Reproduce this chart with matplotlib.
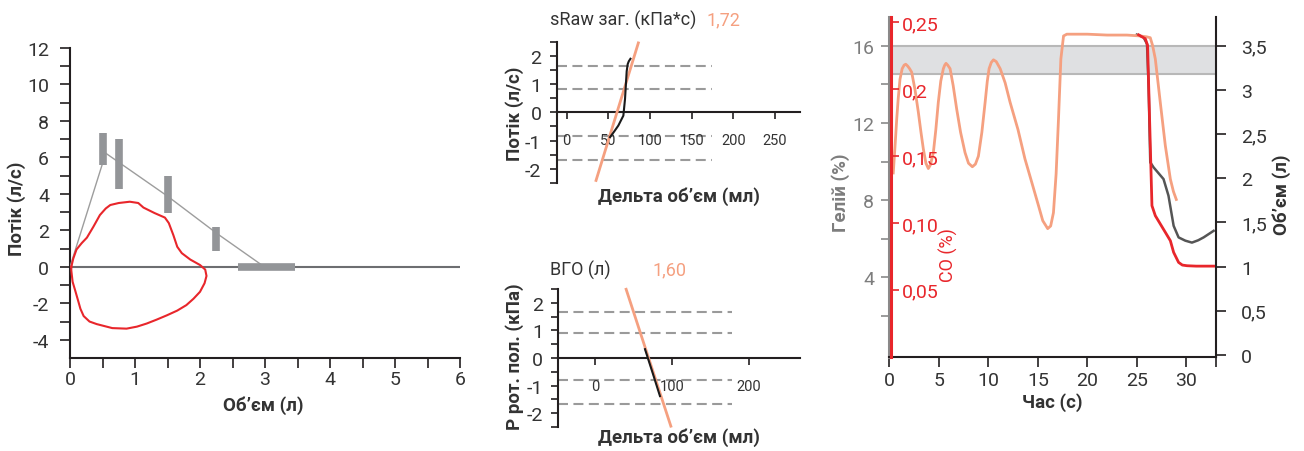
import matplotlib
matplotlib.use('Agg')
import matplotlib.pyplot as plt
from matplotlib.ticker import FixedLocator, FixedFormatter

plt.rcParams['font.family'] = ['Roboto', 'DejaVu Sans']
plt.rcParams['axes.unicode_minus'] = False

# ---------------- data ----------------
# Panel 1: flow-volume
loop_vol = [0.02, 0.05, 0.10, 0.18, 0.26, 0.36, 0.46, 0.55, 0.62, 0.75, 0.92, 1.05, 1.13, 1.30, 1.46, 1.52,
            1.59, 1.65, 1.72, 1.85, 2.00, 2.08, 2.10, 2.07, 2.00, 1.90, 1.79, 1.65, 1.49, 1.33, 1.18, 1.03,
            0.87, 0.65, 0.41, 0.30, 0.21, 0.16, 0.13, 0.08, 0.04, 0.02]
loop_flow = [0.00, 0.45, 0.95, 1.30, 1.60, 2.20, 2.84, 3.20, 3.39, 3.50, 3.57, 3.50, 3.25, 2.95, 2.70, 2.40,
             1.74, 1.10, 0.75, 0.40, 0.10, -0.15, -0.50, -0.90, -1.37, -1.75, -2.10, -2.40, -2.66, -2.90, -3.11, -3.28,
             -3.39, -3.36, -3.14, -3.00, -2.70, -2.30, -1.92, -1.30, -0.82, -0.20]
pred_vol = [0.0, 0.55, 1.51, 2.26, 2.95, 3.45]
pred_flow = [0.0, 6.23, 3.85, 1.83, 0.10, 0.0]
bar_x = [0.51, 0.75, 1.51, 2.25]
bar_lo = [5.59, 4.27, 2.93, 0.86]
bar_hi = [7.33, 7.00, 5.00, 2.20]
hbar_x = [2.59, 3.46]
hbar_y = 0.0
vol_ticks = [0, 1, 2, 3, 4, 5, 6]
flow_ticks = [-4, -2, 0, 2, 4, 6, 8, 10, 12]

# Panel 2: sRaw
sraw_fit_x = [35.2, 86.0]
sraw_fit_y = [-2.41, 2.45]
sraw_loop_x = [52.0, 57.0, 62.0, 68.0, 70.0, 71.2, 72.0, 73.2, 74.5, 76.5]
sraw_loop_y = [-0.88, -0.68, -0.47, -0.12, 0.47, 1.06, 1.45, 1.70, 1.80, 1.89]
sraw_dash_y = [1.65, 0.81, -0.85, -1.67]
sraw_dash_x = [-12, 174]
sraw_xticks = [0, 50, 100, 150, 200, 250]
sraw_value = "1,72"

# Panel 3: ВГО
vgo_fit_x = [40.4, 98.7]
vgo_fit_y = [2.49, -2.47]
vgo_loop_x = [65.0, 74.5, 84.5]
vgo_loop_y = [0.32, -0.50, -1.38]
vgo_dash_y = [1.66, 0.90, -0.78, -1.65]
vgo_dash_x = [-48, 178]
vgo_xticks = [0, 100, 200]
vgo_value = "1,60"

# Panel 4: time series
t_vol = [0.40, 0.60, 0.75, 0.90, 1.08, 1.30, 1.50, 1.66, 1.85, 2.05, 2.26, 2.60, 2.93, 3.20, 3.44, 3.70,
         3.94, 4.15, 4.45, 4.70, 4.95, 5.20, 5.46, 5.60, 5.73, 5.90, 6.14, 6.45, 6.81, 7.20, 7.65, 8.00,
         8.39, 8.70, 9.00, 9.35, 9.68, 9.90, 10.08, 10.30, 10.52, 10.80, 11.20, 11.70, 12.20, 13.00, 13.70,
         14.40, 15.07, 15.50, 16.00, 16.30, 16.58, 16.85, 17.09, 17.33, 17.60, 17.93, 20.0, 22.0, 24.0,
         25.35, 26.00, 26.36, 26.60, 26.87, 27.37, 27.88, 28.39, 28.70, 28.99]
volume = [2.06, 2.40, 2.67, 2.90, 3.12, 3.24, 3.28, 3.29, 3.27, 3.24, 3.20, 3.00, 2.75, 2.52, 2.33, 2.17,
          2.11, 2.15, 2.29, 2.55, 2.86, 3.10, 3.24, 3.28, 3.30, 3.28, 3.24, 3.05, 2.78, 2.52, 2.29, 2.17,
          2.13, 2.16, 2.25, 2.52, 2.86, 3.10, 3.24, 3.31, 3.34, 3.32, 3.24, 3.08, 2.86, 2.55, 2.22,
          1.95, 1.69, 1.52, 1.43, 1.46, 1.61, 2.05, 2.67, 3.35, 3.61, 3.63, 3.63, 3.62, 3.62,
          3.61, 3.60, 3.59, 3.50, 3.35, 2.86, 2.37, 1.99, 1.85, 1.76]
t_co = [25.18, 25.86, 26.09, 26.29, 26.53, 26.87, 27.88, 28.39, 28.72, 29.22, 29.60, 30.07, 31.00, 32.76]
co = [0.2406, 0.2377, 0.2326, 0.1778, 0.1129, 0.1054, 0.0930, 0.0867, 0.0780, 0.0705, 0.0685, 0.0680, 0.0677, 0.0677]
t_he = [25.00, 25.68, 26.03, 26.19, 26.36, 26.69, 27.70, 28.20, 28.72, 29.22, 29.90, 30.57, 31.20, 31.75, 32.76]
helium = [16.57, 16.44, 16.09, 13.93, 9.96, 9.70, 9.09, 8.23, 6.67, 6.07, 5.90, 5.80, 5.92, 6.07, 6.41]
he_band = [14.54, 16.0]
time_ticks = [0, 5, 10, 15, 20, 25, 30]
he_ticks = [4, 8, 12, 16]
co_ticks = [0.05, 0.10, 0.15, 0.20, 0.25]
co_labels = ["0,05", "0,10", "0,15", "0,2", "0,25"]
vol_ticks4 = [0, 0.5, 1, 1.5, 2, 2.5, 3, 3.5]
vol_labels4 = ["0", "0,5", "1", "1,5", "2", "2,5", "3", "3,5"]

# ---------------- style ----------------
W, H = 1304, 452
TXT = '#333333'
ORANGE = '#f5a080'
RED = '#e8262b'
GRAY = '#939598'
TICK = 14
LAB = 13.5

fig = plt.figure(figsize=(W / 100, H / 100), dpi=100)


def rect(l, t, r, b):
    return [l / W, 1 - b / H, (r - l) / W, (b - t) / H]


def ftext(px, py, s, **kw):
    fig.text(px / W, 1 - py / H, s, **kw)


# ---------------- panel 1 ----------------
ax1 = fig.add_axes(rect(70, 49, 460, 359))
ax1.set_xlim(0, 6)
ax1.set_ylim(-5, 12)
for s in ['top', 'right']:
    ax1.spines[s].set_visible(False)
for s in ['left', 'bottom']:
    ax1.spines[s].set_color('#231f20')
    ax1.spines[s].set_linewidth(1.5)
ax1.xaxis.set_major_locator(FixedLocator(vol_ticks))
ax1.xaxis.set_minor_locator(FixedLocator([v + 0.5 for v in vol_ticks[:-1]]))
ax1.yaxis.set_major_locator(FixedLocator(flow_ticks))
ax1.yaxis.set_minor_locator(FixedLocator([v + 1 for v in flow_ticks[:-1]]))
ax1.tick_params(which='both', direction='out', length=7, width=1.2, color='#231f20')
ax1.tick_params(axis='y', which='major', labelsize=TICK, labelcolor=TXT, pad=8)
ax1.tick_params(axis='x', which='major', labelsize=TICK, labelcolor=TXT, pad=2)
ax1.axhline(0, color='#6d6e71', lw=1.5, zorder=2)
ax1.plot(pred_vol, pred_flow, color='#9d9d9d', lw=1.0, zorder=3)
ax1.vlines(bar_x, bar_lo, bar_hi, color=GRAY, lw=5.5, zorder=4)
ax1.plot(hbar_x, [hbar_y, hbar_y], color=GRAY, lw=5.5, solid_capstyle='butt', zorder=4)
ax1.plot(loop_vol + loop_vol[:1], loop_flow + loop_flow[:1], color=RED, lw=1.5, zorder=5)
ftext(17, 209, 'Потік (л/с)', rotation=90, ha='center', va='center', fontsize=LAB, fontweight='bold', color=TXT)
ftext(263, 406, 'Об’єм (л)', ha='center', va='center', fontsize=LAB, fontweight='bold', color=TXT)


# ---------------- panels 2/3 ----------------
def loop_panel(box, xlim, xticks, dash_x, dash_y, fit_x, fit_y, lx, ly):
    ax = fig.add_axes(rect(*box))
    ax.set_xlim(*xlim)
    ax.set_ylim(-2.5, 2.5)
    for s in ['top', 'right']:
        ax.spines[s].set_visible(False)
    ax.spines['bottom'].set_position(('data', 0))
    for s in ['left', 'bottom']:
        ax.spines[s].set_color('#231f20')
        ax.spines[s].set_linewidth(1.5)
    ax.xaxis.set_major_locator(FixedLocator(xticks))
    ax.yaxis.set_major_locator(FixedLocator([-2, -1, 0, 1, 2]))
    ax.yaxis.set_minor_locator(FixedLocator([-2.5, -1.5, -0.5, 0.5, 1.5, 2.5]))
    ax.tick_params(which='both', direction='out', length=5, width=1.2, color='#231f20')
    ax.tick_params(axis='y', which='major', labelsize=TICK, labelcolor=TXT, pad=6)
    ax.tick_params(axis='x', labelsize=10.5, labelcolor=TXT, pad=10)
    for y in dash_y:
        ax.plot(dash_x, [y, y], color='#9a9a9a', lw=1.5, dashes=(4.8, 2.6), zorder=1)
    ax.plot(fit_x, fit_y, color=ORANGE, lw=2.0, zorder=3, clip_on=False)
    ax.plot(lx, ly, color='#1a1a1a', lw=1.5, zorder=4)
    return ax


ax2 = loop_panel((556.7, 42.5, 800, 184), (-12, 280), sraw_xticks, sraw_dash_x, sraw_dash_y,
                 sraw_fit_x, sraw_fit_y, sraw_loop_x, sraw_loop_y)
ax3 = loop_panel((558.3, 290, 800, 428), (-48, 267), vgo_xticks, vgo_dash_x, vgo_dash_y,
                 vgo_fit_x, vgo_fit_y, vgo_loop_x, vgo_loop_y)

ftext(550, 20, 'sRaw заг. (кПа*с)', ha='left', va='center', fontsize=13, color=TXT)
ftext(707, 20, sraw_value, ha='left', va='center', fontsize=13, color=ORANGE)
ftext(515, 114, 'Потік (л/с)', rotation=90, ha='center', va='center', fontsize=LAB, fontweight='bold', color=TXT)
ftext(679, 197, 'Дельта об’єм (мл)', ha='center', va='center', fontsize=LAB, fontweight='bold', color=TXT)

ftext(550, 270, 'ВГО (л)', ha='left', va='center', fontsize=13, color=TXT)
ftext(652, 270, vgo_value, ha='left', va='center', fontsize=13, color=ORANGE)
ftext(515, 357, 'Р рот. пол. (кПа)', rotation=90, ha='center', va='center', fontsize=LAB, fontweight='bold', color=TXT)
ftext(679, 438, 'Дельта об’єм (мл)', ha='center', va='center', fontsize=LAB, fontweight='bold', color=TXT)

# ---------------- panel 4 ----------------
HEG = '#7d7d7d'
ax4 = fig.add_axes(rect(889.3, 18.3, 1216, 357.7))
ax4.set_xlim(0, 33)
ax4.set_ylim(-0.11, 17.47)
for s in ['top', 'right']:
    ax4.spines[s].set_visible(False)
ax4.spines['left'].set_color('#8a8a8a')
ax4.spines['left'].set_linewidth(2.2)
ax4.spines['bottom'].set_color('#231f20')
ax4.spines['bottom'].set_linewidth(1.5)
ax4.xaxis.set_major_locator(FixedLocator(time_ticks))
ax4.xaxis.set_minor_locator(FixedLocator([33]))
ax4.yaxis.set_major_locator(FixedLocator(he_ticks))
ax4.yaxis.set_minor_locator(FixedLocator([v - 2 for v in he_ticks]))
ax4.tick_params(axis='x', which='both', direction='out', length=7, width=1.2, color='#231f20',
                labelsize=TICK, labelcolor=TXT, pad=3)
ax4.tick_params(axis='y', which='both', direction='out', length=6, width=1.2, color='#8a8a8a',
                labelsize=TICK, labelcolor=HEG, pad=5)
ax4.axhspan(he_band[0], he_band[1], facecolor='#dfe0e2', edgecolor='none', zorder=0)
for y in he_band:
    ax4.axhline(y, color='#b8b8b8', lw=1.5, zorder=0.5)
ax4.plot(t_he, helium, color='#555555', lw=1.8, zorder=3)

axv = ax4.twinx()
axv.set_ylim(-0.019, 3.821)
for s in ['top', 'left', 'bottom']:
    axv.spines[s].set_visible(False)
axv.spines['right'].set_color('#231f20')
axv.spines['right'].set_linewidth(1.5)
axv.yaxis.set_major_locator(FixedLocator(vol_ticks4))
axv.yaxis.set_major_formatter(FixedFormatter(vol_labels4))
axv.tick_params(axis='y', direction='out', length=7, width=1.2, color='#231f20',
                labelsize=TICK, labelcolor=TXT, pad=11)
axv.plot(t_vol, volume, color=ORANGE, lw=2.0, zorder=3)

axc = ax4.twinx()
axc.set_ylim(0, 0.2537)
for s in ['top', 'left', 'bottom']:
    axc.spines[s].set_visible(False)
axc.spines['right'].set_position(('axes', 0.0055))
axc.spines['right'].set_color(RED)
axc.spines['right'].set_linewidth(2.2)
axc.yaxis.set_major_locator(FixedLocator(co_ticks))
axc.yaxis.set_major_formatter(FixedFormatter(co_labels))
axc.tick_params(axis='y', direction='out', length=6, width=1.2, color=RED,
                labelsize=TICK, labelcolor=RED, pad=2)
axc.plot(t_co, co, color=RED, lw=2.0, zorder=4)

ftext(1052, 403, 'Час (с)', ha='center', va='center', fontsize=LAB, fontweight='bold', color=TXT)
ftext(841, 193, 'Гелій (%)', rotation=90, ha='center', va='center', fontsize=LAB, fontweight='bold', color=HEG)
ftext(1282, 195, 'Об’єм (л)', rotation=90, ha='center', va='center', fontsize=LAB, fontweight='bold', color=TXT)
ftext(948, 255, 'CO (%)', rotation=90, ha='center', va='center', fontsize=13, color=RED)

fig.savefig('out.png', dpi=100)
